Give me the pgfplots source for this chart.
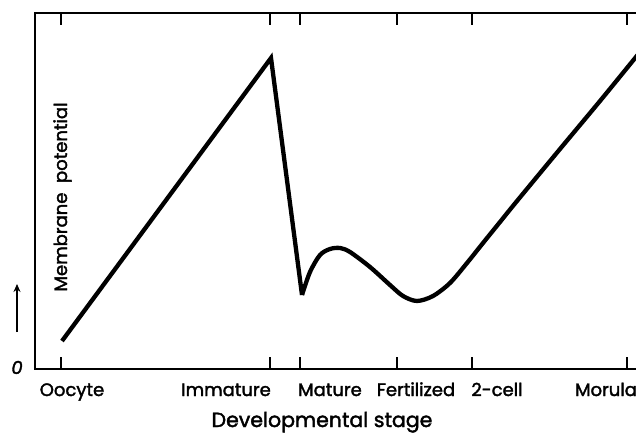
\documentclass[border=0pt]{standalone}
\usepackage{pgfplots}
\pgfplotsset{compat=1.18}
\usepackage{fontspec}
\setmainfont{Poppins}[FakeBold=2]
\usetikzlibrary{arrows.meta}
\begin{document}
\begin{tikzpicture}
\begin{axis}[
  scale only axis,
  width=601pt, height=356pt,
  xmin=35, xmax=636, ymin=0, ymax=356,
  axis x line=box, axis y line=left,
  axis line style={line width=2.6pt, -, line cap=rect},
  ytick=\empty,
  xtick={61,270,300,397,472,627},
  xticklabels=\empty,
  tick align=inside,
  major tick length=12pt,
  every tick/.style={black, line width=2pt},
  clip=false,
]
\begin{scope}
\clip (axis cs:35,0) rectangle (axis cs:636,356);
\addplot[black, line width=4.3pt, line join=miter, miter limit=20] coordinates {
  (62,28) (271,311) (302,74)
};
\addplot[black, line width=4.3pt, smooth, tension=0.5] coordinates {
  (302,74) (310,97) (320,114) (330,120) (340,121) (350,117) (370,102)
  (390,84) (403,73) (417,68) (433,73) (450,86) (467,106) (483,126)
  (500,147) (517,168) (560,220) (600,268) (640,317)
};
\end{scope}
\coordinate (SW) at (rel axis cs:0,0);
\coordinate (NE) at (rel axis cs:1,1);
\node[font=\fontsize{18}{20}\selectfont, anchor=base] at (axis cs:72,-27) {Oocyte};
\node[font=\fontsize{18}{20}\selectfont, anchor=base] at (axis cs:226,-27) {Immature};
\node[font=\fontsize{18}{20}\selectfont, anchor=base] at (axis cs:330,-27) {Mature};
\node[font=\fontsize{18}{20}\selectfont, anchor=base] at (axis cs:416,-27) {Fertilized};
\node[font=\fontsize{18}{20}\selectfont, anchor=base] at (axis cs:497,-27) {2-cell};
\node[font=\fontsize{18}{20}\selectfont, anchor=base] at (axis cs:606,-27) {Morula};
\node[font=\fontsize{20.5}{24}\selectfont, anchor=base] at (axis cs:322,-58) {Developmental stage};
\node[font=\fontsize{18}{20}\selectfont, rotate=90, anchor=base] at (axis cs:67,172) {Membrane\ \ potential};
\node[font=\fontsize{18}{20}\selectfont\itshape, anchor=base] at (axis cs:17,-5) {0};
\draw[line width=1.6pt, -{Stealth[length=8pt,width=7pt]}] (axis cs:17,37) -- (axis cs:17,85);
\end{axis}
\pgfresetboundingbox
\path[use as bounding box] ([xshift=-35pt,yshift=-64pt]SW) rectangle ([yshift=13pt]NE);
\end{tikzpicture}
\end{document}
